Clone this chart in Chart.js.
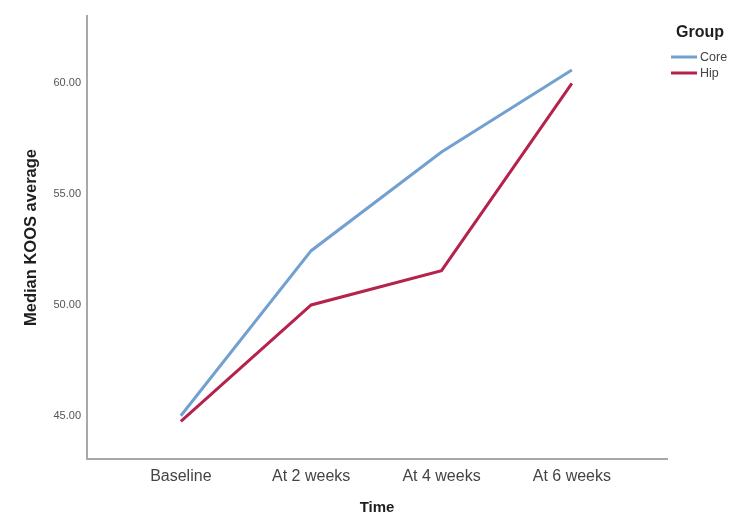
<!DOCTYPE html>
<html>
<head>
  <title>Median KOOS average by group</title>
  <script src="https://cdn.jsdelivr.net/npm/chart.js"></script>
  <style>
    body { margin: 0; background: #fff; }
    #wrap { width: 750px; height: 527px; }
  </style>
</head>
<body>
  <div id="wrap"><canvas id="chart" width="750" height="527"></canvas></div>

  <script>
    // values
    const timepoints = ['Baseline', 'At 2 weeks', 'At 4 weeks', 'At 6 weeks'];
    const coreValues = [45.0, 52.45, 56.9, 60.6];
    const hipValues = [44.75, 50.0, 51.55, 60.0];
    const yTicks = [45, 50, 55, 60];

    const FONT = "'Liberation Sans', Arial, sans-serif";
    const CORE = '#72a0d0';
    const HIP = '#b5224b';

    const toPoints = vals => vals.map((v, i) => ({ x: i, y: v }));

    // axis titles and the legend box, placed where the reference has them
    const extras = {
      id: 'extras',
      afterDraw(chart) {
        const ctx = chart.ctx;
        const area = chart.chartArea;
        ctx.save();
        ctx.fillStyle = '#1e1e1e';
        ctx.textAlign = 'center';
        ctx.textBaseline = 'middle';
        ctx.font = 'bold 15px ' + FONT;
        ctx.fillText('Time', (area.left + area.right) / 2, 508);

        ctx.save();
        ctx.font = 'bold 16.5px ' + FONT;
        ctx.translate(31, (area.top + area.bottom) / 2);
        ctx.rotate(-Math.PI / 2);
        ctx.fillText('Median KOOS average', 0, 0);
        ctx.restore();

        ctx.font = 'bold 16px ' + FONT;
        ctx.fillText('Group', 700, 33);

        ctx.font = '12.5px ' + FONT;
        ctx.textAlign = 'left';
        ctx.fillStyle = '#444';
        chart.data.datasets.forEach((ds, i) => {
          const y = 57 + i * 16;
          ctx.strokeStyle = ds.borderColor;
          ctx.lineWidth = 3;
          ctx.beginPath();
          ctx.moveTo(671, y);
          ctx.lineTo(697, y);
          ctx.stroke();
          ctx.fillText(ds.label, 700, y + 1);
        });
        ctx.restore();
      }
    };

    const ctx = document.getElementById('chart').getContext('2d');
    new Chart(ctx, {
      type: 'line',
      data: {
        datasets: [
          { label: 'Core', data: toPoints(coreValues), borderColor: CORE, borderWidth: 3, pointRadius: 0, tension: 0, fill: false },
          { label: 'Hip', data: toPoints(hipValues), borderColor: HIP, borderWidth: 3, pointRadius: 0, tension: 0, fill: false }
        ]
      },
      options: {
        responsive: false,
        animation: false,
        layout: { padding: { top: 16, right: 83, left: 0, bottom: 0 } },
        plugins: { legend: { display: false }, tooltip: { enabled: false } },
        scales: {
          x: {
            type: 'linear',
            min: -0.72,
            max: 3.73,
            afterBuildTicks: axis => { axis.ticks = timepoints.map((t, i) => ({ value: i })); },
            afterFit: axis => { axis.height = 527 - 459; },
            grid: { display: false, drawTicks: false },
            border: { color: '#a8a8a8', width: 2 },
            ticks: {
              callback: v => timepoints[v],
              color: '#444',
              font: { family: FONT, size: 16 },
              padding: 8,
              maxRotation: 0
            }
          },
          y: {
            min: 43.05,
            max: 63.04,
            afterBuildTicks: axis => { axis.ticks = yTicks.map(v => ({ value: v })); },
            afterFit: axis => { axis.width = 87; },
            grid: { display: false, drawTicks: false },
            border: { color: '#a8a8a8', width: 2 },
            ticks: {
              callback: v => v.toFixed(2),
              color: '#555',
              font: { family: FONT, size: 11 },
              padding: 6
            }
          }
        }
      },
      plugins: [extras]
    });
  </script>
</body>
</html>
